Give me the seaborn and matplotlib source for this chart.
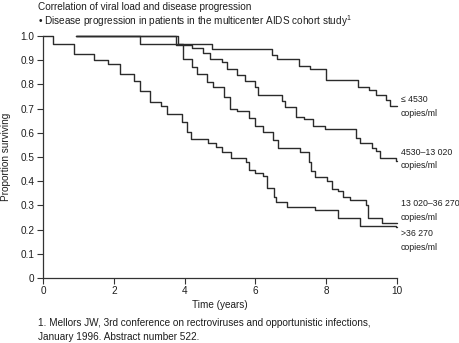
import matplotlib
matplotlib.use("Agg")
import matplotlib.pyplot as plt
from matplotlib import font_manager
import seaborn as sns
import pandas as pd

# ---- data ----
groups = ["≤ 4530", "4530–13 020", "13 020–36 270", ">36 270"]

t_low = [0.94, 3.80, 4.76, 6.46, 6.60, 7.24, 7.54, 8.00, 8.91, 9.20, 9.42, 9.70, 9.80, 10.0]
s_low = [1.00, 0.967, 0.945, 0.922, 0.904, 0.877, 0.862, 0.820, 0.790, 0.776, 0.756, 0.735, 0.710, 0.710]

t_mid1 = [0.94, 3.77, 4.20, 4.52, 4.72, 5.06, 5.19, 5.49, 5.71, 5.99, 6.08, 6.74, 6.85, 7.15,
          7.38, 7.62, 7.97, 8.85, 8.96, 9.30, 9.41, 9.51, 9.98, 10.0]
s_mid1 = [1.00, 0.963, 0.949, 0.928, 0.905, 0.894, 0.863, 0.839, 0.816, 0.790, 0.755, 0.732, 0.706, 0.667,
          0.655, 0.630, 0.615, 0.580, 0.556, 0.538, 0.524, 0.495, 0.482, 0.482]

t_mid2 = [0.94, 2.73, 3.96, 4.20, 4.34, 4.62, 4.80, 5.12, 5.27, 5.47, 5.82, 5.99, 6.22, 6.51, 6.65,
          7.26, 7.50, 7.57, 7.69, 8.02, 8.16, 8.32, 8.47, 8.68, 9.13, 9.17, 9.57, 10.0]
s_mid2 = [1.00, 0.967, 0.903, 0.873, 0.845, 0.810, 0.790, 0.750, 0.700, 0.690, 0.660, 0.630, 0.605, 0.570, 0.536,
          0.520, 0.478, 0.444, 0.416, 0.402, 0.368, 0.360, 0.333, 0.322, 0.303, 0.250, 0.229, 0.229]

t_high = [0.0, 0.27, 0.88, 1.45, 1.84, 2.18, 2.58, 2.73, 3.02, 3.32, 3.50, 3.94, 4.06, 4.18, 4.66,
          4.90, 5.07, 5.30, 5.73, 5.82, 6.00, 6.22, 6.32, 6.53, 6.58, 6.90, 7.69, 8.32, 8.96, 9.98, 10.0]
s_high = [1.00, 0.967, 0.927, 0.900, 0.884, 0.843, 0.812, 0.772, 0.729, 0.712, 0.678, 0.645, 0.605, 0.574, 0.558,
          0.540, 0.520, 0.494, 0.479, 0.445, 0.435, 0.423, 0.372, 0.336, 0.315, 0.295, 0.281, 0.248, 0.216, 0.212, 0.212]

x_ticks = [0, 2, 4, 6, 8, 10]
y_ticks = [0, 0.1, 0.2, 0.3, 0.4, 0.5, 0.6, 0.7, 0.8, 0.9, 1.0]
y_ticklabels = ["0", "0.1", "0.2", "0.3", "0.4", "0.5", "0.6", "0.7", "0.8", "0.9", "1.0"]

title1 = "Correlation of viral load and disease progression"
title2 = "• Disease progression in patients in the multicenter AIDS cohort study$^{1}$"
foot1 = "1. Mellors JW, 3rd conference on rectroviruses and opportunistic infections,"
foot2 = "January 1996. Abstract number 522."

# ---- build table ----
rows = []
for g, ts, ss in zip(groups, [t_low, t_mid1, t_mid2, t_high], [s_low, s_mid1, s_mid2, s_high]):
    for i, (t, s) in enumerate(zip(ts, ss)):
        rows.append({"group": g, "order": i, "time": t, "surv": s})
df = pd.DataFrame(rows)

sns.set_theme(style="ticks")
avail = {f.name for f in font_manager.fontManager.ttflist}
fam = "Liberation Sans Narrow" if "Liberation Sans Narrow" in avail else "Liberation Sans"
plt.rcParams["font.family"] = [fam, "DejaVu Sans"]
plt.rcParams["mathtext.fontset"] = "custom"
plt.rcParams["mathtext.rm"] = fam

FS = 7.2
TXT = "#1e1e1e"

fig = plt.figure(figsize=(4.6, 3.43), dpi=100)
ax = fig.add_axes([43 / 460, 1 - 278 / 343, (397 - 43) / 460, (278 - 36) / 343])

line_color = "#2b2b2b"
sns.lineplot(data=df, x="time", y="surv", hue="group", units="group", estimator=None, sort=False,
             palette=[line_color] * 4, legend=False, drawstyle="steps-post", linewidth=1.0, ax=ax,
             clip_on=False)

ax.set_xlim(0, 10)
ax.set_ylim(0, 1.0)
ax.set_xticks(x_ticks)
ax.set_xticklabels([str(v) for v in x_ticks])
ax.set_yticks(y_ticks)
ax.set_yticklabels(y_ticklabels)
sns.despine(ax=ax)
for sp in ["left", "bottom"]:
    ax.spines[sp].set_color("#333333")
    ax.spines[sp].set_linewidth(0.9)
ax.tick_params(axis="both", direction="out", length=4, width=0.8, color="#333333",
               labelsize=FS, labelcolor=TXT, pad=2)
ax.set_xlabel("Time (years)", fontsize=FS, color=TXT)
ax.set_ylabel("Proportion surviving", fontsize=FS, color=TXT, labelpad=7)
ax.xaxis.set_label_coords(0.5, -(305 - 278) / 242)
ax.xaxis.label.set_va("center")

# group labels at right
label_pos = [(99, 113), (152, 165), (204, 218), (234, 247)]
FSL = 6.3
for g, (y1, y2) in zip(groups, label_pos):
    fig.text(401 / 460, 1 - y1 / 343, g, fontsize=FSL, color=TXT, va="center", ha="left")
    fig.text(401 / 460, 1 - y2 / 343, "copies/ml", fontsize=FSL, color=TXT, va="center", ha="left")

fig.text(38 / 460, 1 - 7 / 343, title1, fontsize=FS, color=TXT, va="center", ha="left")
fig.text(38 / 460, 1 - 21 / 343, title2, fontsize=FS, color=TXT, va="center", ha="left")
fig.text(38 / 460, 1 - 323 / 343, foot1, fontsize=FS, color=TXT, va="center", ha="left")
fig.text(38 / 460, 1 - 337 / 343, foot2, fontsize=FS, color=TXT, va="center", ha="left")

fig.savefig("out.png", dpi=100, facecolor="white")
